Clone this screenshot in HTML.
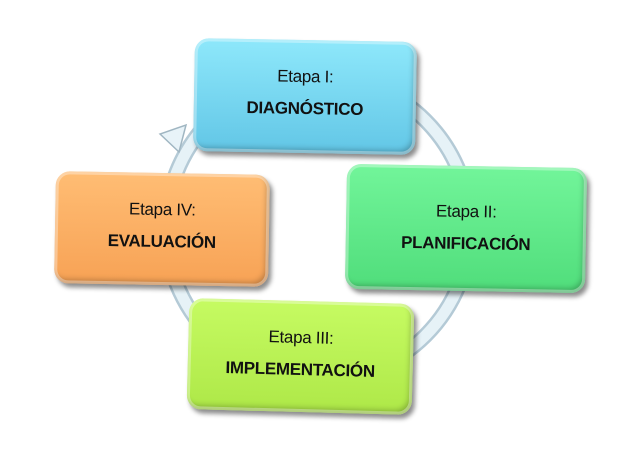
<!DOCTYPE html>
<html><head><meta charset="utf-8"><style>
body{margin:0;width:642px;height:459px;background:#fff;position:relative;overflow:hidden;font-family:"Liberation Sans",sans-serif}
.b{position:absolute;border-radius:14px;text-align:center;color:#111;box-sizing:border-box;
box-shadow:3px 4px 5px rgba(0,0,0,.45), inset 0 0 0 3px rgba(255,255,255,.35), inset -3px -4px 6px rgba(0,0,0,.25)}
.t{font-size:17px;margin-top:27px;letter-spacing:-0.3px}
.n{font-size:17px;font-weight:bold;margin-top:12px;letter-spacing:-0.3px}
</style></head><body>
<svg width="642" height="459" style="position:absolute;left:0;top:0">
<circle cx="318" cy="228" r="152" fill="none" stroke="#b4cad6" stroke-width="16"/>
<circle cx="318" cy="228" r="152" fill="none" stroke="#e6f2f7" stroke-width="11"/>
<polygon points="160,134 179,152 186,125" fill="#e8f3f8" stroke="#a0b6c2" stroke-width="1.5"/>
</svg>
<div class="b" style="left:194px;top:40px;width:222px;height:113px;background:linear-gradient(#8ee8fb,#62c6e6);transform:rotate(1deg)"><div class="t">Etapa I:</div><div class="n">DIAGNÓSTICO</div></div>
<div class="b" style="left:346px;top:166px;width:240px;height:125px;background:linear-gradient(#72f59a,#50dd7b);transform:rotate(1deg)"><div class="t" style="margin-top:36px">Etapa II:</div><div class="n">PLANIFICACIÓN</div></div>
<div class="b" style="left:55px;top:173px;width:214px;height:112px;background:linear-gradient(#ffbd74,#f7a255);transform:rotate(1deg)"><div class="t">Etapa IV:</div><div class="n">EVALUACIÓN</div></div>
<div class="b" style="left:188px;top:301px;width:225px;height:111px;background:linear-gradient(#c6fb62,#aee848);transform:rotate(1.5deg)"><div class="t">Etapa III:</div><div class="n">IMPLEMENTACIÓN</div></div>
</body></html>
